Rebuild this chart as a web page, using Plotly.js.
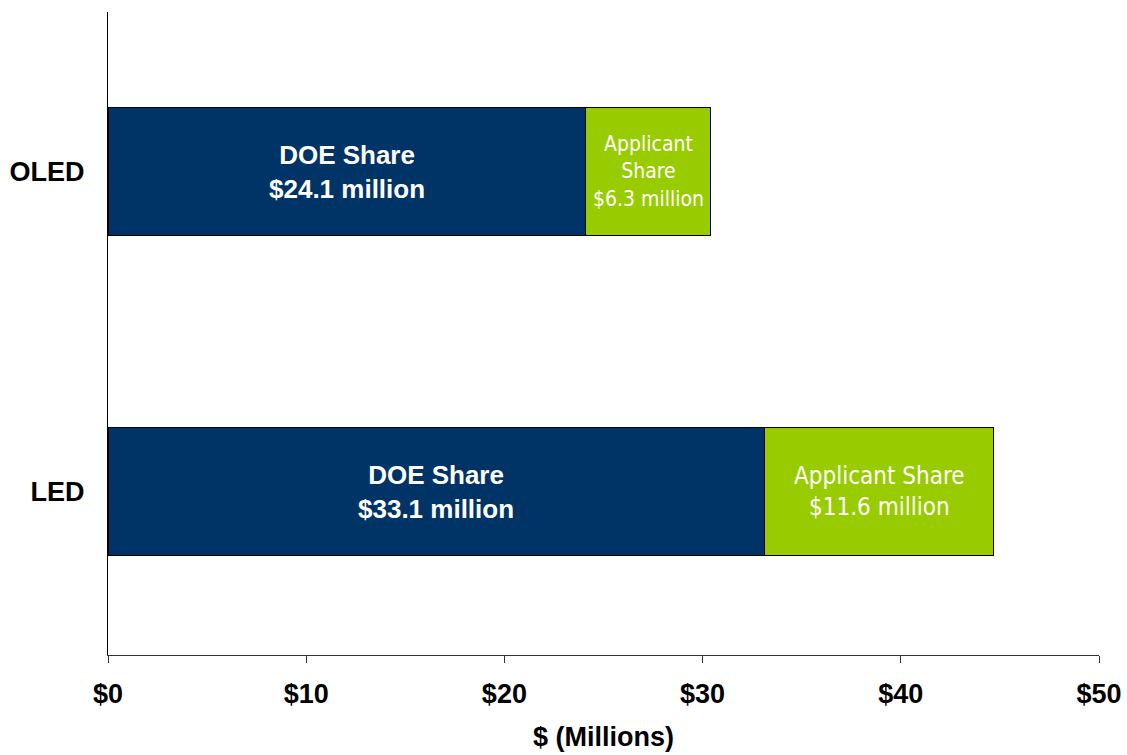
<!DOCTYPE html>
<html><head><meta charset="utf-8">
<script src="https://cdn.plot.ly/plotly-3.0.1.min.js"></script>
<style>html,body{margin:0;padding:0;background:#fff;}#chart{width:1127px;height:755px;}</style>
</head><body><div id="chart"></div>
<script>
const categories = ["LED", "OLED"];
const doeShare = [33.1, 24.1];
const applicantShare = [11.6, 6.3];
const doeLabels = ["DOE Share<br>$33.1 million", "DOE Share<br>$24.1 million"];
const applicantLabels = ["Applicant Share<br>$11.6 million", "Applicant<br>Share<br>$6.3 million"];
const tickVals = [0, 10, 20, 30, 40, 50];
const tickText = ["$0", "$10", "$20", "$30", "$40", "$50"];

const boldFont = "Liberation Sans, Arial, sans-serif";
const narrowFont = "Liberation Sans Narrow, Arial Narrow, DejaVu Sans Condensed, sans-serif";

const traces = [
  {type: "bar", orientation: "h", y: categories, x: doeShare, name: "DOE Share",
   marker: {color: "#003366", line: {color: "#000000", width: 1}}, hoverinfo: "none"},
  {type: "bar", orientation: "h", y: categories, x: applicantShare, name: "Applicant Share",
   marker: {color: "#99CC00", line: {color: "#000000", width: 1}}, hoverinfo: "none"}
];

const annotations = [];
categories.forEach((c, i) => {
  annotations.push({x: doeShare[i] / 2, y: c, xref: "x", yref: "y", text: "<b>" + doeLabels[i] + "</b>",
    showarrow: false, font: {family: boldFont, size: 26, color: "#ffffff"}, align: "center"});
  annotations.push({x: doeShare[i] + applicantShare[i] / 2, y: c, xref: "x", yref: "y", text: applicantLabels[i],
    showarrow: false, font: {family: narrowFont, size: i === 0 ? 24 : 21, color: "#ffffff"}, align: "center"});
});

const layout = {
  width: 1127, height: 755,
  margin: {l: 108, r: 28, t: 12, b: 100},
  paper_bgcolor: "#ffffff", plot_bgcolor: "#ffffff",
  barmode: "stack", bargap: 0.6,
  showlegend: false,
  xaxis: {range: [0, 50], tickvals: tickVals, ticktext: tickText.map(t => "<b>" + t + "</b>"), showgrid: false, zeroline: false,
    showline: true, linecolor: "#333333", linewidth: 1, ticks: "outside", ticklen: 7, tickcolor: "#333333",
    tickfont: {family: boldFont, size: 27, color: "#000000"}, ticklabelstandoff: 8,
    title: {text: "<b>$ (Millions)</b>", font: {family: boldFont, size: 27, color: "#000000"}, standoff: 18}},
  yaxis: {range: [-0.51, 1.5], showgrid: false, zeroline: false, showline: true, linecolor: "#000000", linewidth: 1,
    ticks: "", tickfont: {family: boldFont, size: 27, color: "#000000"}, ticklabelstandoff: 17,
    tickvals: categories, ticktext: categories.map(c => "<b>" + c + "</b>")},
  annotations: annotations
};

Plotly.newPlot("chart", traces, layout, {displayModeBar: false, staticPlot: true});
</script></body></html>
